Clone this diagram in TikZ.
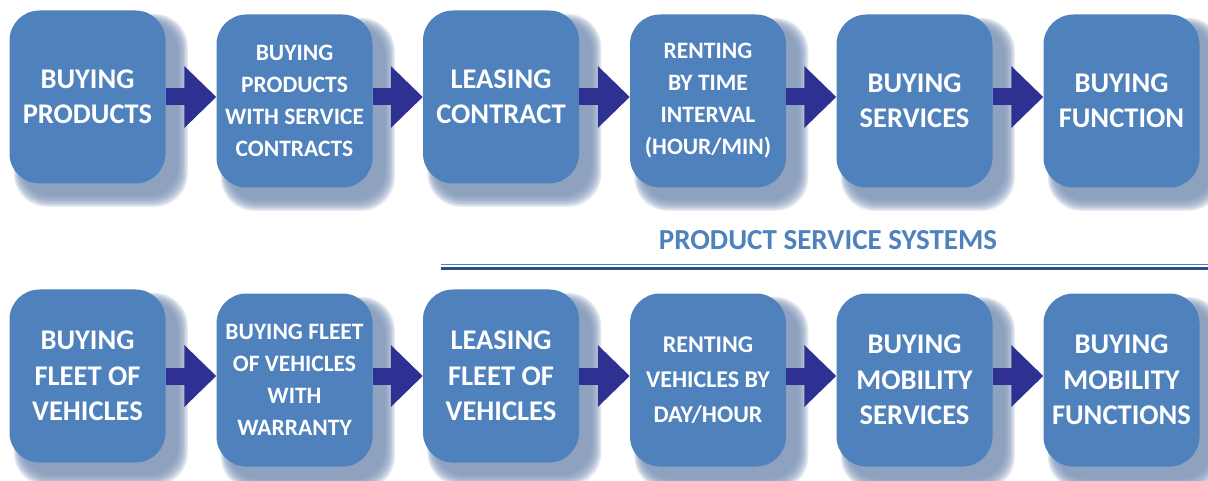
\documentclass[tikz,border=0pt]{standalone}
\usepackage{fontspec}
\setmainfont{Carlito}
\usetikzlibrary{arrows.meta,shadows}

\definecolor{boxblue}{HTML}{4F81BD}
\definecolor{arrowblue}{HTML}{2E3192}
\definecolor{shadeblue}{HTML}{7890B4}
\definecolor{ruledark}{HTML}{2C4F8B}

\newcommand{\biglbl}{\fontsize{28.5pt}{35.5pt}\selectfont\bfseries}
\newcommand{\midlbl}{\fontsize{24pt}{35pt}\selectfont\bfseries}
\newcommand{\smalllbl}{\fontsize{23.5pt}{32pt}\selectfont\bfseries}
\newcommand{\titlelbl}{\fontsize{29pt}{32pt}\selectfont\bfseries}

\tikzset{
  softshade/.style={general shadow={fill=shadeblue, opacity=0.2,
      shadow xshift=12pt, shadow yshift=-12pt, shadow scale=#1}},
  stage/.style={fill=boxblue, text=white, rounded corners=30pt,
    minimum width=156pt, minimum height=173pt, inner sep=0pt,
    align=center, font=\biglbl,
    execute at begin node={\rule{0pt}{31pt}},
    softshade=1.115, softshade=1.1, softshade=1.085, softshade=1.07,
    softshade=1.055, softshade=1.04, softshade=1.025, softshade=1.01},
  smallstage/.style={stage, font=\smalllbl,
    execute at begin node={\rule{0pt}{26.5pt}}},
  midstage/.style={stage, font=\midlbl,
    execute at begin node={\rule{0pt}{30.5pt}}},
  flow/.style={draw=arrowblue, line width=17pt,
    -{Triangle[length=32pt,width=60pt]}},
}

\begin{document}
\begin{tikzpicture}[x=1pt,y=-1pt]
    \useasboundingbox (0,0) rectangle (1208,481);

    % product row
    \node[stage] (p1) at (87.5,97) {BUYING\\PRODUCTS};
    \node[smallstage] (p2) at (294.5,101) {BUYING\\PRODUCTS\\WITH SERVICE\\CONTRACTS};
    \node[stage] (p3) at (501,97) {LEASING\\CONTRACT};
    \node[smallstage] (p4) at (708,101) {RENTING\\BY TIME\\INTERVAL\\(HOUR/MIN)};
    \node[stage] (p5) at (914.5,101) {BUYING\\SERVICES};
    \node[stage] (p6) at (1121.5,101) {BUYING\\FUNCTION};

    % vehicle row
    \node[stage] (v1) at (87.5,376) {BUYING\\FLEET OF\\VEHICLES};
    \node[smallstage] (v2) at (294.5,380) {BUYING FLEET\\OF VEHICLES\\WITH\\WARRANTY};
    \node[stage] (v3) at (501,376) {LEASING\\FLEET OF\\VEHICLES};
    \node[midstage] (v4) at (708,380) {RENTING\\VEHICLES BY\\DAY/HOUR};
    \node[stage] (v5) at (914.5,380) {BUYING\\MOBILITY\\SERVICES};
    \node[stage] (v6) at (1121.5,380) {BUYING\\MOBILITY\\FUNCTIONS};

    \draw[flow] (p1.east) -- (p1.east -| p2.west);
    \draw[flow] (p2.east |- p3.west) -- (p3.west);
    \draw[flow] (p3.east) -- (p3.east -| p4.west);
    \draw[flow] (p4.east |- p3.east) -- (p3.east -| p5.west);
    \draw[flow] (p5.east |- p3.east) -- (p3.east -| p6.west);

    \draw[flow] (v1.east) -- (v1.east -| v2.west);
    \draw[flow] (v2.east |- v3.west) -- (v3.west);
    \draw[flow] (v3.east) -- (v3.east -| v4.west);
    \draw[flow] (v4.east |- v3.east) -- (v3.east -| v5.west);
    \draw[flow] (v5.east |- v3.east) -- (v3.east -| v6.west);

    % heading and rule
    \node[font=\titlelbl, text=boxblue] (pss) at (828,240) {PRODUCT SERVICE SYSTEMS};
    \coordinate (rulea) at (441,264.5);
    \coordinate (ruleb) at (441,268.3);
    \draw[boxblue, line width=1pt] (rulea) -- ++(767,0);
    \draw[ruledark, line width=2.5pt] (ruleb) -- ++(767,0);
\end{tikzpicture}
\end{document}
